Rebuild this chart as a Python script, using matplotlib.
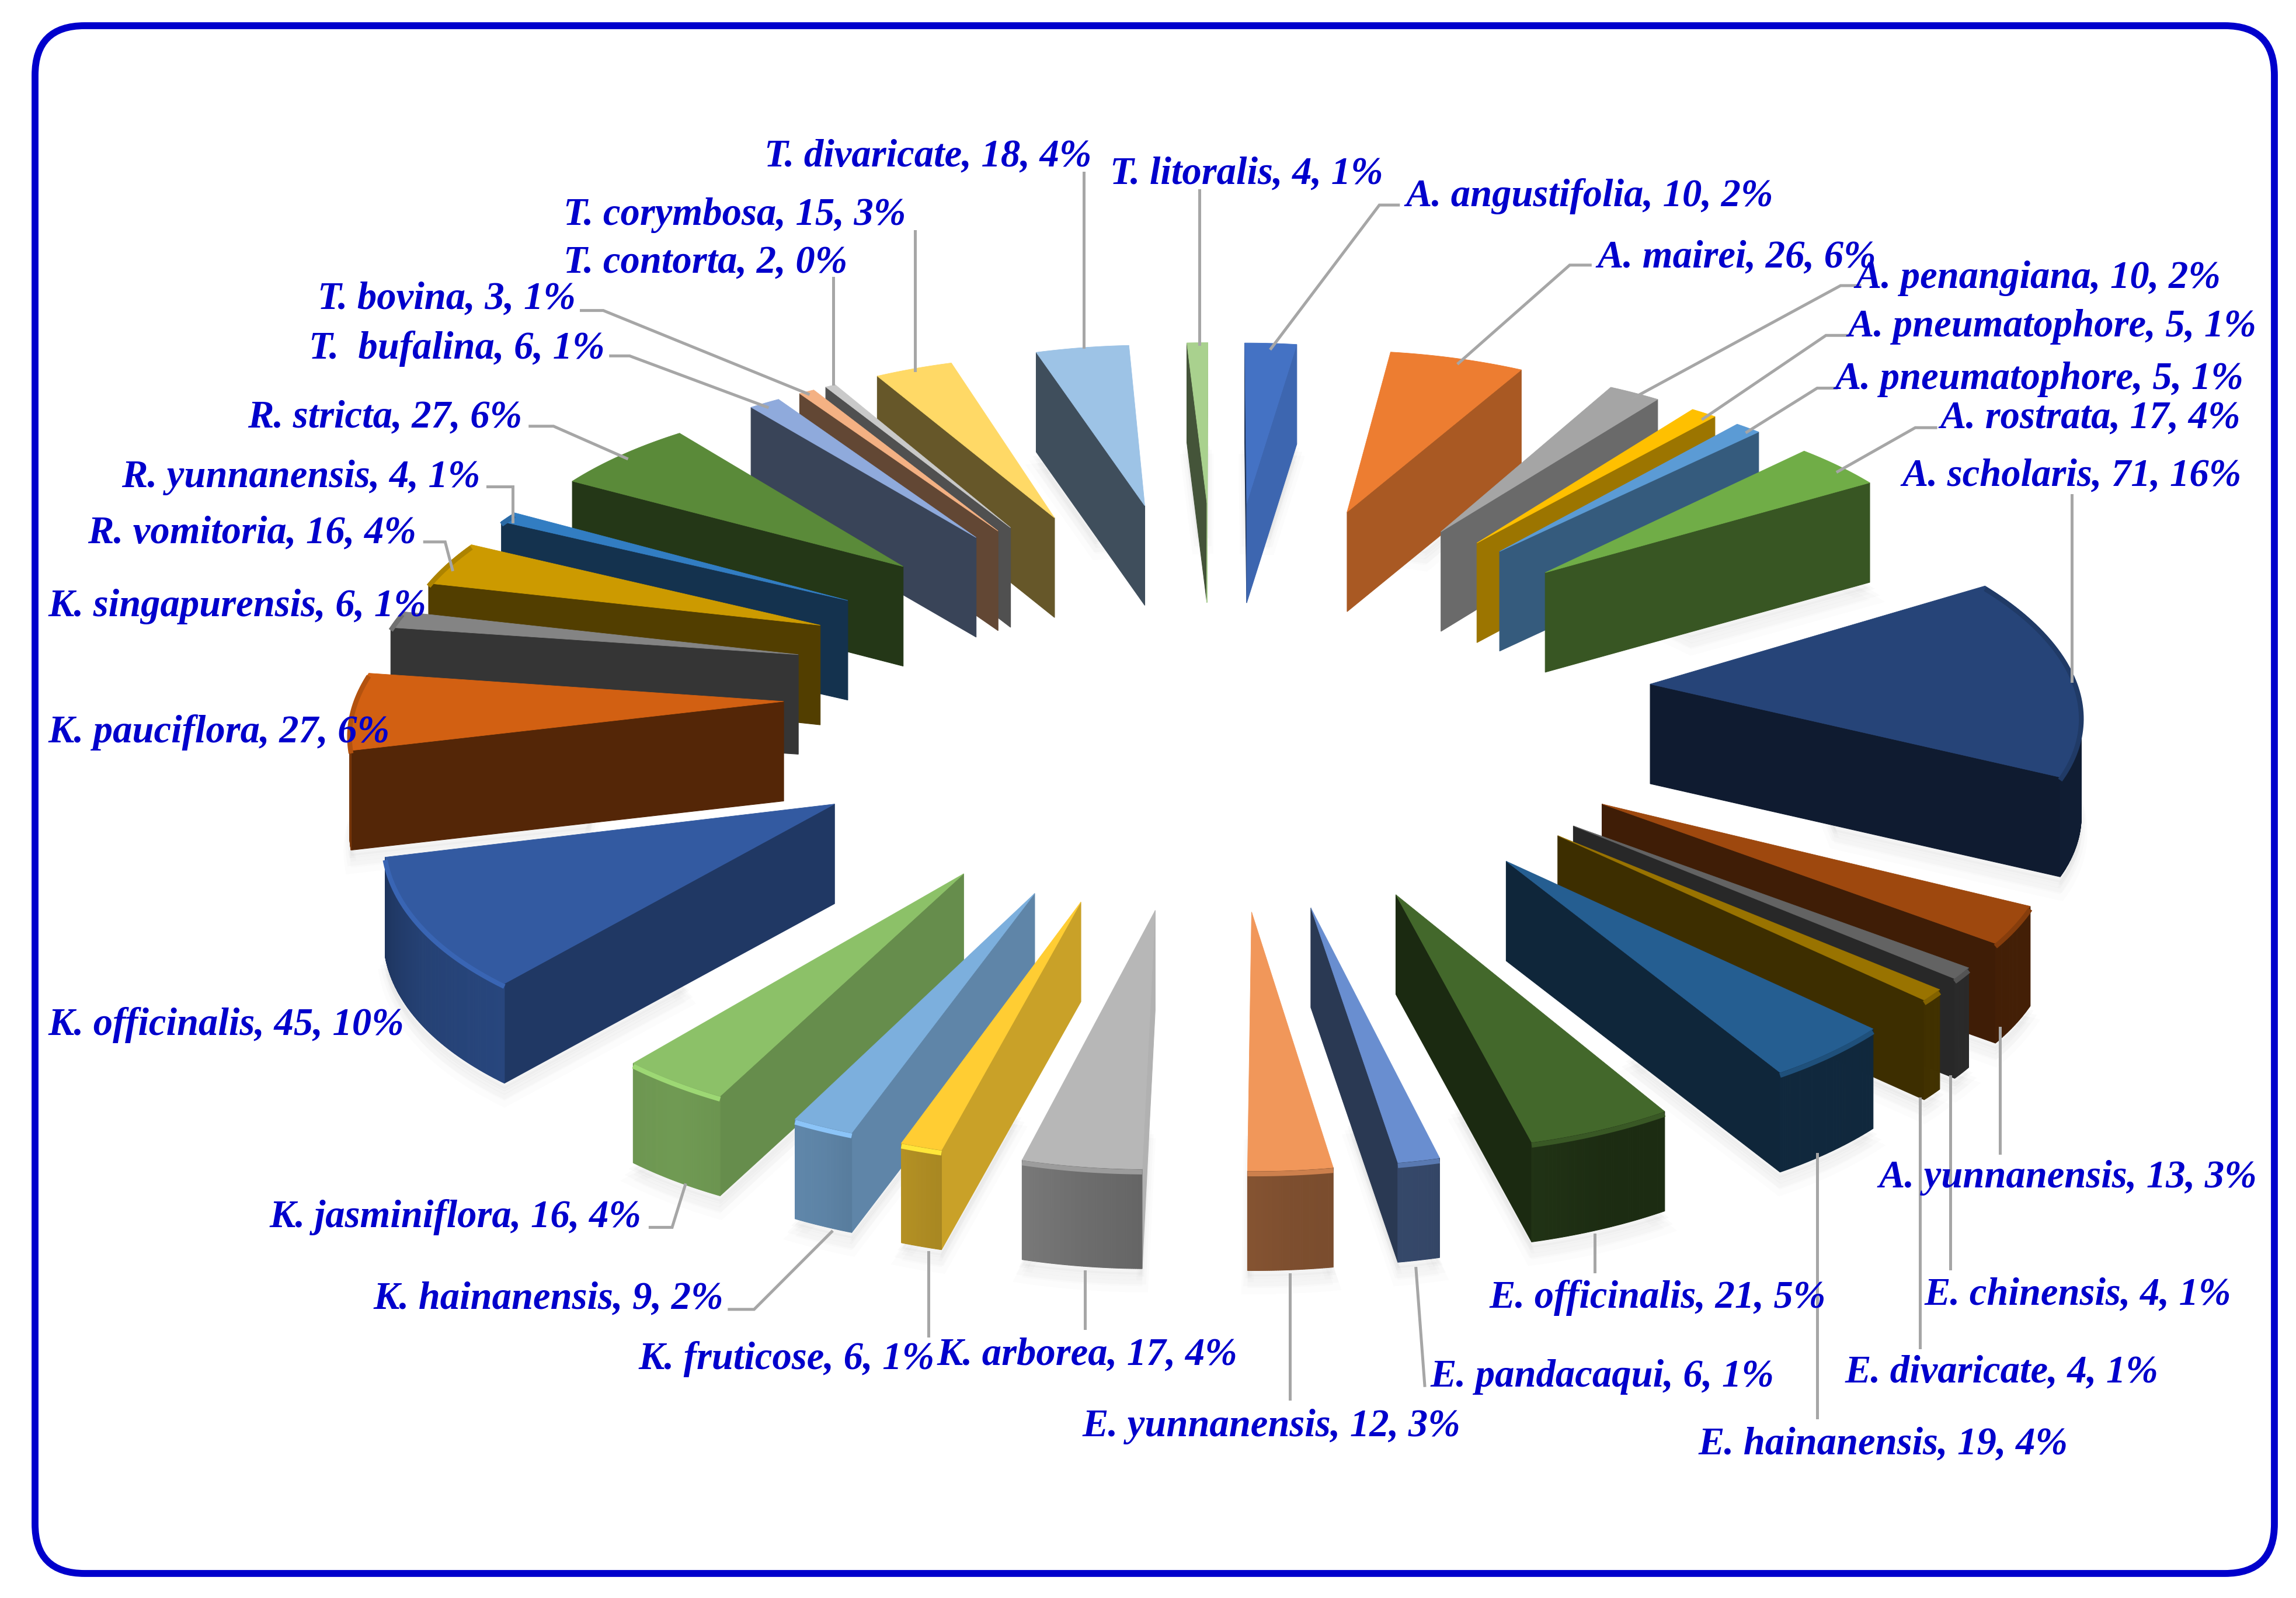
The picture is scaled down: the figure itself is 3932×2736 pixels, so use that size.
import numpy as np
import matplotlib
matplotlib.use("Agg")
import matplotlib.pyplot as plt
from matplotlib.patches import Polygon, FancyBboxPatch
from matplotlib.colors import to_rgb

species = ["A. angustifolia","A. mairei","A. penangiana","A. pneumatophore","A. pneumatophore",
           "A. rostrata","A. scholaris","A. yunnanensis","E. chinensis","E. divaricate",
           "E. hainanensis","E. officinalis","E. pandacaqui","E. yunnanensis","K. arborea",
           "K. fruticose","K. hainanensis","K. jasminiflora","K. officinalis","K. pauciflora",
           "K. singapurensis","R. vomitoria","R. yunnanensis","R. stricta","T.  bufalina",
           "T. bovina","T. contorta","T. corymbosa","T. divaricate","T. litoralis"]
counts = [10,26,10,5,5,17,71,13,4,4,19,21,6,12,17,6,9,16,45,27,6,16,4,27,6,3,2,15,18,4]
percents = [2,6,2,1,1,4,16,3,1,1,4,5,1,3,4,1,2,4,10,6,1,4,1,6,1,1,0,3,4,1]
colors = ["#4472C4","#ED7D31","#A5A5A5","#FFC000","#5B9BD5","#70AD47","#264478","#9E480E","#636363",
          "#997300","#255E91","#43682B","#698ED0","#F1975A","#B7B7B7","#FFCD33","#7CAFDD","#8CC168",
          "#335AA1","#D26012","#848484","#CC9A00","#327DC2","#5A8A39","#8FAADC","#F4B183","#C9C9C9",
          "#FFD966","#9DC3E6","#A9D18E"]

# layout, in the coordinates of the shrunken view (1568 wide)
U = 3932/1568
label_xy = [(960,134),(1091,176),(1267,190),(1262,223),(1253,259),(1325,286),(1299,325),(1283,804),
            (1314,884),(1260,937),(1160,986),(1017,886),(977,940),(739,974),(640,925),(436,928),
            (255,887),(184,831),(33,700),(33,500),(33,414),(60,364),(83,326),(169,285),(211,238),
            (217,204),(385,180),(385,147),(522,107),(758,119)]
leaders = [[(868,238),(942,140),(955,140)],[(996,248),(1072,181),(1086,181)],[(1115,272),(1257,195),(1270,195)],
           [(1163,286),(1247,229),(1262,229)],[(1193,295),(1241,265),(1254,265)],[(1255,322),(1308,292),(1322,292)],
           [(1415,465),(1415,338)],[(1366,702),(1366,787)],[(1332,735),(1332,866)],[(1311,750),(1311,920)],
           [(1241,788),(1241,968)],[(1089,843),(1089,868)],[(967,866),(973,946)],[(881,870),(881,955)],
           [(741,868),(741,907)],[(634,855),(634,912)],[(568,841),(515,894),(498,894)],
           [(468,809),(459,838),(444,838)],[],[],[],[(309,389),(304,370),(290,370)],
           [(350,356),(350,332),(333,332)],[(428,313),(378,291),(362,291)],[(524,278),(430,243),(417,243)],
           [(552,269),(412,212),(397,212)],[(569,262),(569,190)],[(625,253),(625,158)],
           [(740,237),(740,118)],[(819,235),(819,130)]]

CX, CY = 832*U, 472*U
AX, AY = 296*U, 139*U
K = 0.08
R = 0.985
DEPTH = 68*U

def proj(X, Y):
    s = 1/(1+K*np.asarray(Y))
    return CX+AX*np.asarray(X)*s, CY-AY*np.asarray(Y)*s

def shade(c, f):
    return tuple(min(1, v*f) for v in to_rgb(c))

def cut_factor(n):
    return float(np.interp(n % 360, [90,95,105,110,117,130,149,166,300],
                           [.97,.95,.78,.76,.73,.62,.5,.4,.4]))

def arc_factor(a):
    return float(np.interp(a % 360, [60,88,157,168,176,188,197,203,213,238,267,300],
                           [.45,.43,.42,.5,.52,.6,.68,.75,.8,.72,.5,.4]))

fig = plt.figure(figsize=(39.32,27.36), dpi=100)
ax = fig.add_axes([0,0,1,1])
ax.set_xlim(0,3932); ax.set_ylim(2736,0); ax.axis("off")

ax.add_patch(FancyBboxPatch((60,44),3835,2650,boxstyle="round,pad=0,rounding_size=85",
                            fc="white",ec="#0000CC",lw=8.5,zorder=0))

vals = np.array(counts,float)
edges = np.concatenate([[0],np.cumsum(vals)])/vals.sum()*360

slices = []
for i,(a0,a1) in enumerate(zip(edges[:-1],edges[1:])):
    m = np.radians((a0+a1)/2)
    ts = np.linspace(a0,a1,max(3,int((a1-a0)*4)+2))
    X = np.sin(m)+R*np.sin(np.radians(ts)); Y = np.cos(m)+R*np.cos(np.radians(ts))
    ax_,ay_ = proj(np.sin(m),np.cos(m))
    sx,sy = proj(X,Y)
    slices.append((np.cos(m),i,a0,a1,ts,ax_,ay_,sx,sy))
slices.sort(key=lambda t:-t[0])

def facing(p,q):
    pts=[p,q,(q[0],q[1]+DEPTH),(p[0],p[1]+DEPTH)]
    return sum(pts[j][0]*pts[(j+1)%4][1]-pts[(j+1)%4][0]*pts[j][1] for j in range(4))<0

def quad(p,q,col,z):
    ax.add_patch(Polygon([p,q,(q[0],q[1]+DEPTH),(p[0],p[1]+DEPTH)],closed=True,fc=col,ec=col,lw=0.8,zorder=z))

for order,(_,i,a0,a1,ts,ax_,ay_,sx,sy) in enumerate(slices):
    z = 2+order*0.01
    base = colors[i]
    # soft shadow under the outer part of the slice
    keep = 0.45
    ix0,iy0 = ax_+keep*(sx[0]-ax_), ay_+keep*(sy[0]-ay_)
    ix1,iy1 = ax_+keep*(sx[-1]-ax_), ay_+keep*(sy[-1]-ay_)
    outline = np.column_stack([np.r_[ix0,sx,ix1],np.r_[iy0,sy,iy1]+DEPTH])
    for off,alpha in ((30,.025),(20,.03),(10,.04)):
        ax.add_patch(Polygon(outline+[0,off],closed=True,fc="#808080",ec="#808080",lw=off/2,alpha=alpha,zorder=1))
    apex=(ax_,ay_)
    first=(sx[0],sy[0]); last=(sx[-1],sy[-1])
    if facing(apex,first):
        quad(apex,first,shade(base,cut_factor(a0-90)),z)
    if facing(last,apex):
        quad(last,apex,shade(base,cut_factor(a1+90)),z)
    for j in range(len(ts)-1):
        p=(sx[j],sy[j]); q=(sx[j+1],sy[j+1])
        if facing(p,q):
            quad(p,q,shade(base,arc_factor((ts[j]+ts[j+1])/2)),z+0.001)
    top=np.column_stack([np.r_[ax_,sx],np.r_[ay_,sy]])
    ax.add_patch(Polygon(top,closed=True,fc=to_rgb(base),ec=to_rgb(base),lw=0.6,zorder=z+0.002))
    mid=(a0+a1)/2
    if 60<mid<300:
        f=1.12 if 195<mid<250 else 0.85
        ax.plot(sx,sy+5,color=shade(base,f),lw=6,zorder=z+0.003,solid_capstyle="butt")

for pts in leaders:
    if pts:
        p=np.array(pts)*U
        ax.plot(p[:,0],p[:,1],color="#A6A6A6",lw=3.6,zorder=5,solid_joinstyle="miter")

for name,c,pc,(x,y) in zip(species,counts,percents,label_xy):
    ax.text(x*U,y*U,f"{name}, {c}, {pc}%",family="Liberation Serif",weight="bold",style="italic",
            fontsize=48,color="#0000CC",ha="left",va="center",zorder=6)

fig.savefig("out.png",dpi=100)
